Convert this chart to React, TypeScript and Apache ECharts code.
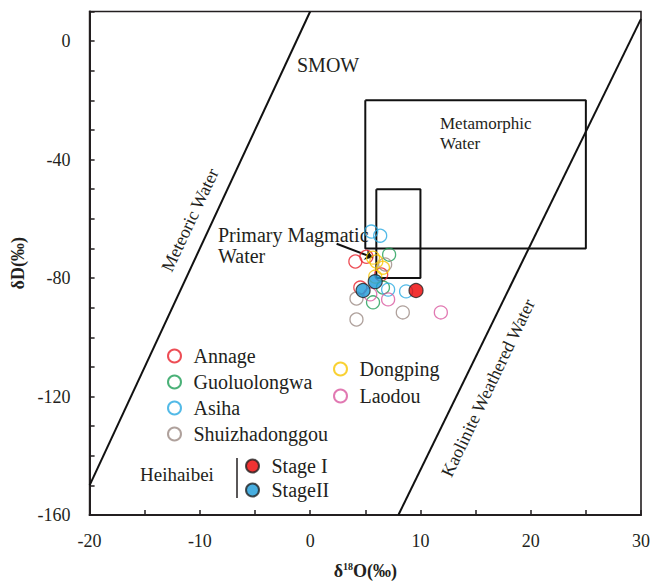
import React, { useEffect, useRef } from "react";
import * as echarts from "echarts";

// ---- data ----
const annage = [[4.1, -74.4], [5.1, -72.8], [4.55, -83.2], [6.44, -78.8]];
const guoluolongwa = [[7.16, -72.1], [6.6, -83.2], [5.7, -88.2]];
const asiha = [[5.54, -64.3], [6.35, -65.7], [7.07, -83.9], [8.7, -84.5]];
const shuizhadonggou = [[6.8, -75.4], [4.2, -86.9], [8.4, -91.6], [4.2, -94.0]];
const dongping = [[5.7, -73.1], [6.0, -74.4], [6.6, -76.5], [5.9, -79.5]];
const laodou = [[5.45, -85.5], [7.07, -87.2], [11.85, -91.6]];
const stageI = [[9.6, -84.2]];
const stageII = [[5.9, -81.2], [4.8, -84.2]];

const meteoricLine = [[-20, -150], [0, 10]];
const kaoliniteLine = [[8, -160], [30, 7.5]];
const metamorphicBox = [[5, -20], [25, -20], [25, -70], [5, -70], [5, -20]];
const magmaticBox = [[6, -50], [10, -50], [10, -80], [6, -80], [6, -50]];
const magmaticArrow = [[2.4, -68.4], [5.7, -73.1]];

const xTickLabels = [-20, -10, 0, 10, 20, 30];
const yTickLabels = [0, -40, -80, -120, -160];

const FONT = "'Liberation Serif', 'Times New Roman', serif";
const INK = "#231f20";

export default function App() {
  const ref = useRef<HTMLDivElement>(null);
  useEffect(() => {
    if (!ref.current) return;
    const chart = echarts.init(ref.current, null, { renderer: "svg" });

    const hollow = (name: string, data: number[][], color: string) => ({
      name,
      type: "scatter",
      data,
      symbol: "circle",
      symbolSize: 13,
      itemStyle: { color: "rgba(255,255,255,0)", borderColor: color, borderWidth: 1.3 },
      emphasis: { disabled: true },
      z: 3,
    });
    const filled = (name: string, data: number[][], color: string) => ({
      name,
      type: "scatter",
      data,
      symbol: "circle",
      symbolSize: 14,
      itemStyle: { color, borderColor: "#222", borderWidth: 1.2 },
      emphasis: { disabled: true },
      z: 4,
    });
    const blackLine = (data: number[][]) => ({
      type: "line",
      data,
      symbol: "none",
      lineStyle: { color: "#111", width: 2 },
      silent: true,
      z: 2,
    });

    const legendBase = (fontSize: number) => ({
      orient: "vertical",
      icon: "circle",
      itemWidth: 28,
      itemHeight: 13,
      padding: 0,
      selectedMode: false,
      textStyle: { fontFamily: FONT, fontSize, color: INK, lineHeight: 20 },
    });

    chart.setOption({
      animation: false,
      backgroundColor: "#fff",
      grid: {
        left: 89.6,
        right: 9,
        top: 11.5,
        bottom: 68.5,
        show: true,
        borderColor: INK,
        borderWidth: 1.6,
      },
      xAxis: {
        type: "value",
        min: -20,
        max: 30,
        interval: 5,
        name: "{a|δ}{s|18}{a|O(‰)}",
        nameLocation: "middle",
        nameGap: 46,
        nameTextStyle: {
          rich: {
            a: { fontFamily: FONT, fontSize: 18, fontWeight: "bold", color: INK, lineHeight: 20 },
            s: { fontFamily: FONT, fontSize: 10, fontWeight: "bold", color: INK, lineHeight: 10, verticalAlign: "top" },
          },
        },
        axisLine: { onZero: false, lineStyle: { color: INK, width: 2 } },
        axisTick: { inside: true, length: 5, lineStyle: { color: INK, width: 1.5 } },
        axisLabel: {
          margin: 17,
          fontFamily: FONT,
          fontSize: 18,
          color: INK,
          formatter: (v: number) => (xTickLabels.includes(v) ? String(v) : ""),
        },
        splitLine: { show: false },
      },
      yAxis: {
        type: "value",
        min: -160,
        max: 10,
        interval: 10,
        name: "δD(‰)",
        nameLocation: "middle",
        nameGap: 60,
        nameTextStyle: { fontFamily: FONT, fontSize: 18, fontWeight: "bold", color: INK },
        axisLine: { onZero: false, lineStyle: { color: INK, width: 2 } },
        axisTick: { inside: true, length: 5, lineStyle: { color: INK, width: 1.5 } },
        axisLabel: {
          margin: 19,
          fontFamily: FONT,
          fontSize: 18,
          color: INK,
          formatter: (v: number) => (yTickLabels.includes(v) ? String(v) : ""),
        },
        splitLine: { show: false },
      },
      legend: [
        {
          ...legendBase(20),
          left: 167,
          top: 346,
          itemGap: 6,
          data: ["Annage", "Guoluolongwa", "Asiha", "Shuizhadonggou"],
        },
        {
          ...legendBase(20),
          left: 333,
          top: 359,
          itemGap: 7,
          data: ["Dongping", "Laodou"],
        },
        {
          ...legendBase(20),
          left: 245,
          top: 456,
          itemGap: 4,
          data: ["Stage I", "StageII"],
        },
      ],
      graphic: [
        { type: "text", left: 297, top: 55, style: { text: "SMOW", fontFamily: FONT, fontSize: 20, fill: INK } },
        { type: "text", left: 440, top: 113, style: { text: "Metamorphic\nWater", fontFamily: FONT, fontSize: 17, fill: INK, lineHeight: 20 } },
        { type: "text", left: 218, top: 224, style: { text: "Primary Magmatic\nWater", fontFamily: FONT, fontSize: 20, fill: INK, lineHeight: 21 } },
        {
          type: "text",
          x: 190,
          y: 220,
          rotation: (65 * Math.PI) / 180,
          style: { text: "Meteoric Water", fontFamily: FONT, fontSize: 18, fill: INK, align: "center", verticalAlign: "middle" },
        },
        {
          type: "text",
          x: 488,
          y: 388,
          rotation: (64.5 * Math.PI) / 180,
          style: { text: "Kaolinite Weathered Water", fontFamily: FONT, fontSize: 18, fill: INK, align: "center", verticalAlign: "middle" },
        },
        { type: "text", left: 140, top: 465, style: { text: "Heihaibei", fontFamily: FONT, fontSize: 19, fill: INK } },
        { type: "line", shape: { x1: 237, y1: 458, x2: 237, y2: 498 }, style: { stroke: INK, lineWidth: 1.5 } },
      ],
      series: [
        blackLine(meteoricLine),
        blackLine(kaoliniteLine),
        blackLine(metamorphicBox),
        blackLine(magmaticBox),
        {
          type: "lines",
          coordinateSystem: "cartesian2d",
          data: [{ coords: magmaticArrow }],
          symbol: ["none", "arrow"],
          symbolSize: 8,
          lineStyle: { color: "#111", width: 2, opacity: 1 },
          silent: true,
          z: 2,
        },
        hollow("Annage", annage, "#e8212b"),
        hollow("Guoluolongwa", guoluolongwa, "#1e9e56"),
        hollow("Asiha", asiha, "#28a9e1"),
        hollow("Shuizhadonggou", shuizhadonggou, "#9b8a83"),
        hollow("Dongping", dongping, "#f7c600"),
        hollow("Laodou", laodou, "#d9579f"),
        filled("Stage I", stageI, "#ee0000"),
        filled("StageII", stageII, "#1a9ad8"),
      ],
    });
    return () => chart.dispose();
  }, []);
  return <div ref={ref} style={{ position: "absolute", left: 0, top: 0, width: 653, height: 585 }} />;
}
